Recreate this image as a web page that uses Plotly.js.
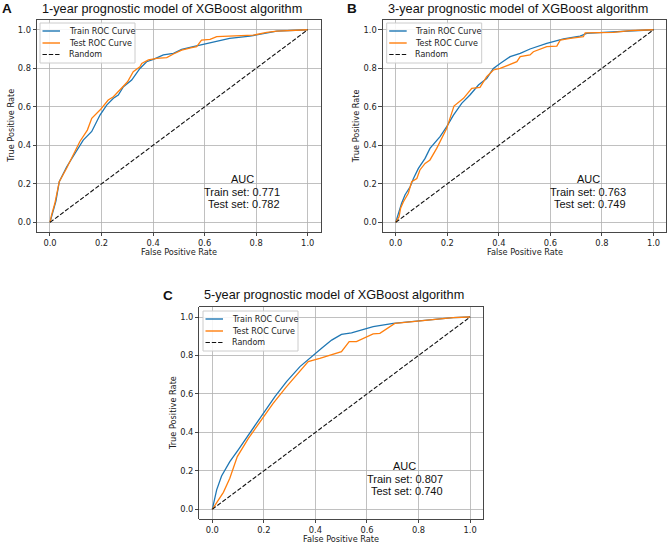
<!DOCTYPE html>
<html>
<head>
<meta charset="utf-8">
<script src="https://cdn.plot.ly/plotly-3.0.1.min.js"></script>
<style>html,body{margin:0;padding:0;background:#fff;}#chart{width:669px;height:544px;}</style>
</head>
<body>
<div id="chart"></div>
<script>
// Panel A: 1-year
const trainA_x = [0, 0.010, 0.023, 0.036, 0.065, 0.129, 0.162, 0.194, 0.220, 0.246, 0.265, 0.285, 0.317, 0.349, 0.375, 0.401, 0.440, 0.479, 0.511, 0.556, 0.608, 0.697, 0.776, 0.841, 0.880, 1.0];
const trainA_y = [0, 0.045, 0.110, 0.211, 0.289, 0.427, 0.472, 0.557, 0.609, 0.644, 0.661, 0.704, 0.739, 0.799, 0.834, 0.846, 0.869, 0.877, 0.898, 0.912, 0.929, 0.955, 0.967, 0.981, 0.993, 1.0];
const testA_x = [0, 0.006, 0.019, 0.029, 0.036, 0.065, 0.116, 0.145, 0.162, 0.194, 0.226, 0.246, 0.278, 0.301, 0.323, 0.349, 0.356, 0.382, 0.414, 0.453, 0.479, 0.511, 0.550, 0.569, 0.588, 0.621, 0.647, 0.711, 0.789, 0.841, 0.880, 1.0];
const testA_y = [0, 0.038, 0.099, 0.159, 0.211, 0.282, 0.420, 0.479, 0.540, 0.583, 0.635, 0.652, 0.696, 0.730, 0.782, 0.808, 0.825, 0.843, 0.851, 0.855, 0.874, 0.894, 0.907, 0.912, 0.946, 0.950, 0.964, 0.969, 0.972, 0.986, 0.993, 1.0];

// Panel B: 3-year
const trainB_x = [0, 0.010, 0.023, 0.036, 0.056, 0.069, 0.088, 0.114, 0.133, 0.172, 0.198, 0.224, 0.256, 0.288, 0.321, 0.353, 0.379, 0.405, 0.444, 0.483, 0.521, 0.586, 0.651, 0.715, 0.741, 0.806, 0.909, 1.0];
const trainB_y = [0, 0.047, 0.099, 0.142, 0.185, 0.228, 0.280, 0.332, 0.384, 0.445, 0.497, 0.557, 0.618, 0.661, 0.713, 0.747, 0.799, 0.825, 0.860, 0.877, 0.900, 0.929, 0.952, 0.967, 0.981, 0.986, 0.995, 1.0];
const testB_x = [0, 0.013, 0.019, 0.030, 0.049, 0.062, 0.082, 0.094, 0.114, 0.133, 0.159, 0.198, 0.226, 0.263, 0.295, 0.327, 0.353, 0.379, 0.405, 0.470, 0.483, 0.521, 0.534, 0.586, 0.625, 0.638, 0.677, 0.728, 0.735, 0.845, 0.909, 1.0];
const testB_y = [0, 0.029, 0.073, 0.107, 0.151, 0.211, 0.228, 0.272, 0.306, 0.324, 0.384, 0.488, 0.604, 0.644, 0.696, 0.701, 0.756, 0.791, 0.799, 0.834, 0.860, 0.869, 0.886, 0.912, 0.915, 0.946, 0.955, 0.964, 0.984, 0.986, 0.995, 1.0];

// Panel C: 5-year
const trainC_x = [0, 0.017, 0.036, 0.068, 0.100, 0.152, 0.198, 0.243, 0.288, 0.340, 0.394, 0.424, 0.463, 0.501, 0.540, 0.585, 0.624, 0.702, 0.805, 0.934, 1.0];
const trainC_y = [0, 0.101, 0.173, 0.248, 0.308, 0.412, 0.499, 0.586, 0.664, 0.742, 0.800, 0.837, 0.880, 0.910, 0.918, 0.936, 0.950, 0.967, 0.979, 0.997, 1.0];
const testC_x = [0, 0.043, 0.068, 0.097, 0.140, 0.185, 0.236, 0.288, 0.372, 0.417, 0.501, 0.531, 0.559, 0.624, 0.650, 0.708, 0.805, 0.934, 1.0];
const testC_y = [0, 0.088, 0.161, 0.274, 0.369, 0.456, 0.551, 0.638, 0.768, 0.785, 0.820, 0.872, 0.872, 0.912, 0.915, 0.967, 0.981, 0.997, 1.0];

const randX = [0, 1];
const randY = [0, 1];

const panelTitles = ["1-year prognostic model of XGBoost algorithm", "3-year prognostic model of XGBoost algorithm", "5-year prognostic model of XGBoost algorithm"];
const panelLetters = ["A", "B", "C"];
const seriesNames = ["Train ROC Curve", "Test ROC Curve", "Random"];
const aucTrain = ["0.771", "0.763", "0.807"];
const aucTest = ["0.782", "0.749", "0.740"];
const tickVals = [0, 0.2, 0.4, 0.6, 0.8, 1.0];
const xLabel = "False Positive Rate";
const yLabel = "True Positive Rate";

const BLUE = "#1f77b4", ORANGE = "#ff7f0e", BLACK = "#111111";
const seriesColors = [BLUE, ORANGE, BLACK];
const seriesDash = ["solid", "solid", "4.4px,1.9px"];
const seriesWidth = [1.3, 1.3, 1.1];

const panels = [
  {tx: trainA_x, ty: trainA_y, sx: testA_x, sy: testA_y},
  {tx: trainB_x, ty: trainB_y, sx: testB_x, sy: testB_y},
  {tx: trainC_x, ty: trainC_y, sx: testC_x, sy: testC_y}
];
const W = 669, H = 544;
// pixel boxes of the axes [left, right, top, bottom]
const boxes = [[37.1, 320.6, 20.1, 232.0], [382.8, 666.4, 20.1, 232.0], [199.4, 483.0, 307.4, 518.9]];
const legPos = [[40, 23], [386.7, 23], [203, 311]];
const titleCenters = [[171.7, 8.6], [517.5, 8.6], [334.0, 295.0]];
const letterPos = [[7, 8.6], [352, 8.6], [168, 295.0]];
const px = v => v / W;
const py = v => (H - v) / H;

const traces = [];
const shapes = [];
const annotations = [];
const layout = {
  width: W, height: H,
  margin: {l: 0, r: 0, t: 0, b: 0},
  paper_bgcolor: "#fff", plot_bgcolor: "#fff",
  showlegend: false,
  font: {family: "DejaVu Sans", color: "#222"}
};
const tfont = {family: "DejaVu Sans", size: 8.2, color: "#222"};

panels.forEach((p, i) => {
  const sfx = i === 0 ? "" : String(i + 1);
  const xa = "x" + sfx, ya = "y" + sfx;
  const data = [[p.tx, p.ty], [p.sx, p.sy], [randX, randY]];
  data.forEach((d, k) => {
    traces.push({x: d[0], y: d[1], xaxis: xa, yaxis: ya, type: "scatter", mode: "lines", name: seriesNames[k],
      line: {color: seriesColors[k], width: seriesWidth[k], dash: seriesDash[k]}});
  });
  const b = boxes[i];
  const axCommon = {
    range: [-0.05, 1.05], tickvals: tickVals, tickformat: ".1f",
    showgrid: true, gridcolor: "#b0b0b0", gridwidth: 0.8, zeroline: false,
    showline: true, linecolor: "#333", linewidth: 0.9, mirror: true,
    ticks: "outside", ticklen: 3.5, tickcolor: "#333", tickwidth: 0.9,
    tickfont: {family: "DejaVu Sans", size: 8.3, color: "#222"}
  };
  layout["xaxis" + sfx] = Object.assign({}, axCommon, {domain: [px(b[0]), px(b[1])], anchor: ya});
  layout["yaxis" + sfx] = Object.assign({}, axCommon, {domain: [py(b[3]), py(b[2])], anchor: xa});

  // axis titles
  const x0 = b[0] + (b[1] - b[0]) * 0.05 / 1.1, x1 = b[1] - (b[1] - b[0]) * 0.05 / 1.1;
  annotations.push({xref: "paper", yref: "paper", x: px((x0 + x1) / 2), y: py(b[3] + 20), xanchor: "center", yanchor: "middle", showarrow: false, text: xLabel, font: tfont});
  annotations.push({xref: "paper", yref: "paper", x: px(b[0] - 26.5), y: py((b[2] + b[3]) / 2), xanchor: "center", yanchor: "middle", textangle: -90, showarrow: false, text: yLabel, font: tfont});

  // panel title and letter
  annotations.push({xref: "paper", yref: "paper", x: px(titleCenters[i][0]), y: py(titleCenters[i][1]), xanchor: "center", yanchor: "middle", showarrow: false, text: panelTitles[i], font: {family: "Liberation Sans", size: 12.7, color: "#111"}});
  annotations.push({xref: "paper", yref: "paper", x: px(letterPos[i][0]), y: py(letterPos[i][1]), xanchor: "center", yanchor: "middle", showarrow: false, text: "<b>" + panelLetters[i] + "</b>", font: {family: "Liberation Sans", size: 13.5, color: "#111"}});

  // AUC text
  annotations.push({xref: xa, yref: ya, x: 0.747, y: 0.227, xanchor: "center", yanchor: "middle", showarrow: false, text: "AUC", font: {family: "Liberation Sans", size: 11, color: "#111"}});
  annotations.push({xref: xa, yref: ya, x: 0.901, y: 0.158, xanchor: "right", yanchor: "middle", showarrow: false, text: "Train set: " + aucTrain[i], font: {family: "Liberation Sans", size: 11, color: "#111"}});
  annotations.push({xref: xa, yref: ya, x: 0.901, y: 0.094, xanchor: "right", yanchor: "middle", showarrow: false, text: "Test set: " + aucTest[i], font: {family: "Liberation Sans", size: 11, color: "#111"}});

  // legend (matplotlib style)
  const lx = legPos[i][0], ly = legPos[i][1];
  shapes.push({type: "rect", xref: "paper", yref: "paper", layer: "above",
    x0: px(lx), x1: px(lx + 95), y0: py(ly), y1: py(ly + 40),
    fillcolor: "rgba(255,255,255,0.85)", line: {color: "#cccccc", width: 1}});
  const rows = [8, 20, 31.5];
  seriesNames.forEach((nm, k) => {
    shapes.push({type: "line", xref: "paper", yref: "paper", layer: "above",
      x0: px(lx + 2.5), x1: px(lx + 20), y0: py(ly + rows[k]), y1: py(ly + rows[k]),
      line: {color: seriesColors[k], width: seriesWidth[k] + 0.1, dash: seriesDash[k]}});
    annotations.push({xref: "paper", yref: "paper", x: px(lx + 26.5), y: py(ly + rows[k]), xanchor: "left", yanchor: "middle", showarrow: false, text: nm, font: {family: "DejaVu Sans", size: 8, color: "#222"}});
  });
});

layout.shapes = shapes;
layout.annotations = annotations;
Plotly.newPlot("chart", traces, layout, {displayModeBar: false, staticPlot: true});
</script>
</body>
</html>
